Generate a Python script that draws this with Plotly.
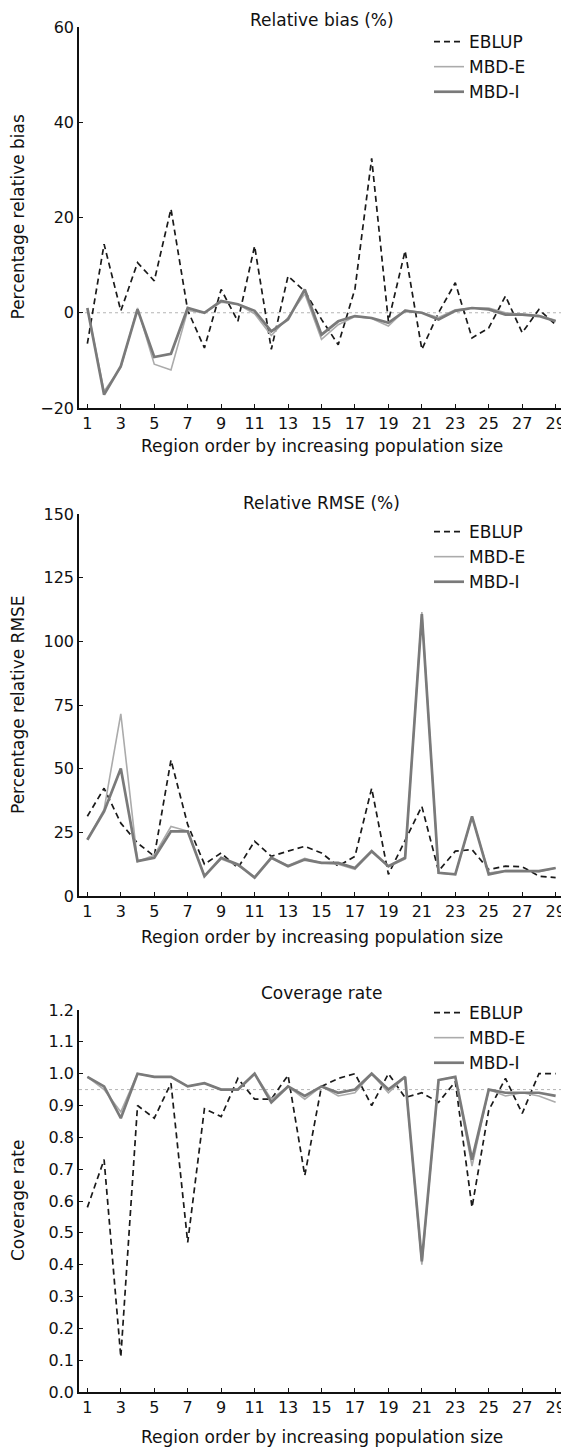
import plotly.graph_objects as go

region = list(range(1, 30))
x_tickvals = list(range(1, 30, 2))

bias_eblup = [-6.5, 14.4, 0.4, 10.5, 6.7, 21.8, 0.5, -7.4, 4.9, -1.8, 14.0, -7.7, 7.7, 4.5, -1.4, -6.7, 5.0, 32.4, -1.8, 13.0, -7.7, 0.0, 6.3, -5.3, -3.2, 3.5, -4.2, 0.7, -2.5]
bias_mbde = [1.0, -16.5, -11.5, 1.0, -10.8, -12.0, 0.5, 0.0, 2.2, 1.8, -0.2, -4.8, -1.0, 4.0, -5.6, -2.5, -0.8, -1.2, -2.8, 0.6, 0.0, -1.0, 0.6, 1.0, 1.0, 0.0, -0.3, -0.6, -1.6]
bias_mbdi = [1.0, -17.2, -11.2, 0.7, -9.3, -8.6, 1.0, 0.0, 2.5, 1.8, 0.4, -3.9, -1.4, 4.9, -4.6, -1.8, -0.7, -1.1, -2.1, 0.4, 0.0, -1.4, 0.4, 1.0, 0.7, -0.4, -0.4, -0.7, -1.8]

rmse_eblup = [31.3, 42.3, 28.6, 20.8, 15.6, 53.4, 28.0, 12.5, 16.9, 11.0, 21.5, 15.6, 17.6, 19.5, 16.9, 11.7, 15.6, 42.3, 8.5, 22.0, 35.2, 9.8, 17.6, 18.2, 10.4, 11.7, 11.5, 7.8, 7.2]
rmse_mbde = [22.0, 34.0, 71.5, 13.5, 16.0, 27.3, 25.5, 8.0, 14.5, 12.0, 7.5, 15.0, 12.0, 14.8, 13.0, 12.5, 10.5, 17.5, 11.5, 14.5, 111.5, 9.0, 8.5, 31.0, 9.0, 10.0, 10.0, 9.5, 11.0]
rmse_mbdi = [22.1, 33.2, 50.1, 13.7, 15.0, 25.4, 25.4, 7.8, 15.0, 12.4, 7.2, 15.0, 11.7, 14.3, 13.0, 13.0, 11.0, 17.6, 11.7, 15.0, 110.7, 9.1, 8.5, 31.3, 8.5, 9.8, 9.8, 9.8, 11.0]

cov_eblup = [0.58, 0.73, 0.11, 0.90, 0.86, 0.97, 0.47, 0.89, 0.865, 0.985, 0.92, 0.92, 0.995, 0.68, 0.96, 0.985, 1.0, 0.90, 1.0, 0.925, 0.94, 0.91, 0.975, 0.58, 0.885, 0.985, 0.875, 1.0, 1.0]
cov_mbde = [0.99, 0.95, 0.88, 1.0, 0.99, 0.99, 0.96, 0.97, 0.95, 0.95, 1.0, 0.92, 0.96, 0.92, 0.96, 0.93, 0.94, 1.0, 0.94, 0.99, 0.40, 0.98, 0.99, 0.71, 0.95, 0.93, 0.94, 0.93, 0.91]
cov_mbdi = [0.99, 0.96, 0.86, 1.0, 0.99, 0.99, 0.96, 0.97, 0.95, 0.95, 1.0, 0.91, 0.96, 0.93, 0.96, 0.94, 0.95, 1.0, 0.95, 0.99, 0.41, 0.98, 0.99, 0.73, 0.95, 0.94, 0.94, 0.94, 0.93]

panel_titles = ["Relative bias (%)", "Relative RMSE (%)", "Coverage rate"]
y_titles = ["Percentage relative bias", "Percentage relative RMSE", "Coverage rate"]
x_title = "Region order by increasing population size"
series_names = ["EBLUP", "MBD-E", "MBD-I"]

FONT = "DejaVu Sans, Verdana, sans-serif"
W, H = 569, 1450
OFF = 8  # page body margin

PLOT_L, PLOT_R = 79, 564  # page px
panels = [
    (bias_eblup, bias_mbde, bias_mbdi),
    (rmse_eblup, rmse_mbde, rmse_mbdi),
    (cov_eblup, cov_mbde, cov_mbdi),
]
# page-pixel layout for each panel
px_domains = [(27, 408), (514, 896), (1010, 1392)]
title_y = [20, 503, 993]
xtitle_y = [446, 937, 1437]
legend_tops = [24, 514, 995]
ytitle_x = 18

y_ranges = [[-20, 60], [0, 150], [0, 1.2]]
y_dticks = [20, 25, 0.1]
y_formats = ["d", "d", ".1f"]
ref_lines = [0, None, 0.95]

styles = [
    dict(color="#1a1a1a", width=1.7, dash="6px,4px"),
    dict(color="#ababab", width=1.6),
    dict(color="#7a7a7a", width=2.7),
]

def py(p):
    return 1 - (p - OFF) / H

plot_w = PLOT_R - PLOT_L

fig = go.Figure()
layout = dict(
    width=W, height=H,
    margin=dict(l=PLOT_L - OFF, r=W - (PLOT_R - OFF), t=0, b=0),
    paper_bgcolor="white", plot_bgcolor="white",
    font=dict(family=FONT, size=16, color="#111"),
    showlegend=True,
    annotations=[], shapes=[],
)

for i, data in enumerate(panels):
    k = "" if i == 0 else str(i + 1)
    leg = "legend" if i == 0 else f"legend{i + 1}"
    for j, (vals, name) in enumerate(zip(data, series_names)):
        fig.add_trace(go.Scatter(
            x=region, y=vals, mode="lines", name=name,
            line=styles[j], xaxis="x" + k, yaxis="y" + k, legend=leg,
        ))
    top, bot = px_domains[i]
    layout["xaxis" + k] = dict(
        domain=[0, 1], anchor="y" + k, range=[0.5, 29.5],
        tickvals=x_tickvals, ticks="inside", ticklen=4, tickcolor="#111",
        showline=True, linecolor="#111", linewidth=1.5, showgrid=False, zeroline=False,
        tickfont=dict(size=16), automargin=False,
    )
    layout["yaxis" + k] = dict(
        domain=[py(bot), py(top)], anchor="x" + k, range=y_ranges[i], dtick=y_dticks[i],
        tick0=y_ranges[i][0], tickformat=y_formats[i],
        ticks="inside", ticklen=4, tickcolor="#111",
        showline=True, linecolor="#111", linewidth=1.5, showgrid=False, zeroline=False,
        tickfont=dict(size=16), automargin=False,
    )
    layout[leg] = dict(
        x=(429 - PLOT_L) / plot_w, xanchor="left", y=py(legend_tops[i]), yanchor="top",
        bgcolor="rgba(0,0,0,0)", font=dict(size=17), tracegroupgap=0,
        itemwidth=30,
    )
    # panel title
    layout["annotations"].append(dict(
        text=panel_titles[i], xref="x" + k + " domain", yref="paper",
        x=0.5, y=py(title_y[i]), yanchor="middle", showarrow=False,
        font=dict(size=17),
    ))
    # x-axis title
    layout["annotations"].append(dict(
        text=x_title, xref="x" + k + " domain", yref="paper",
        x=0.5, y=py(xtitle_y[i]), yanchor="middle", showarrow=False,
        font=dict(size=17),
    ))
    # y-axis title
    layout["annotations"].append(dict(
        text=y_titles[i], xref="paper", yref="paper", textangle=-90,
        x=(ytitle_x - PLOT_L) / plot_w, xanchor="center",
        y=py((top + bot) / 2), yanchor="middle", showarrow=False,
        font=dict(size=17),
    ))
    if ref_lines[i] is not None:
        layout["shapes"].append(dict(
            type="line", xref="x" + k + " domain", yref="y" + k,
            x0=0, x1=1, y0=ref_lines[i], y1=ref_lines[i],
            line=dict(color="#b5b5b5", width=1, dash="dot"), layer="below",
        ))

fig.update_layout(**layout)
fig.write_html("out.html")
